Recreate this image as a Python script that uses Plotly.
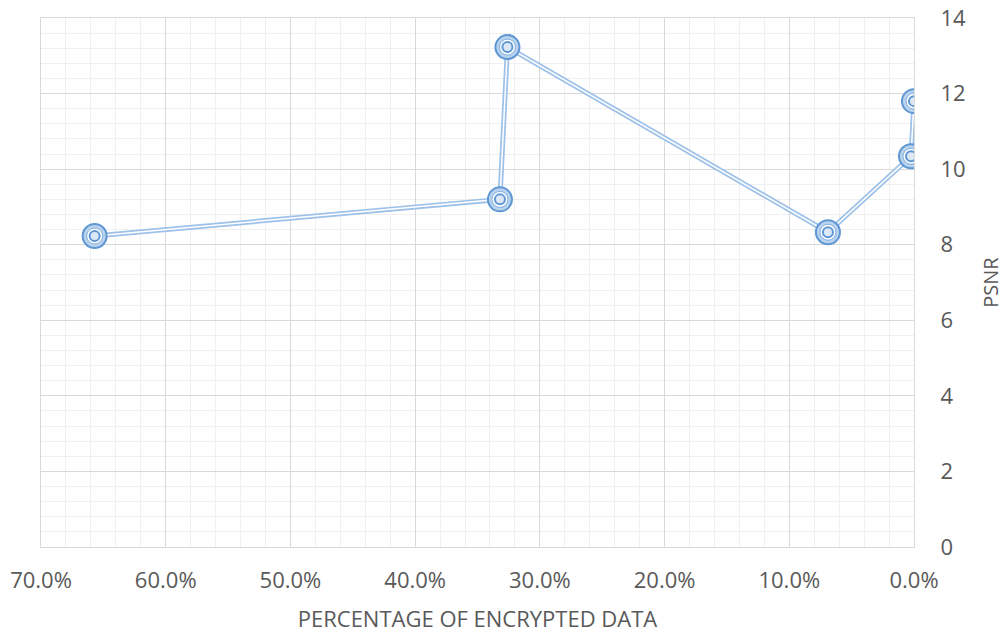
import plotly.graph_objects as go

pct_encrypted = [0.657, 0.332, 0.326, 0.069, 0.0024, 0.0]
psnr = [8.23, 9.2, 13.23, 8.33, 10.34, 11.8]
x_ticks = [0.7, 0.6, 0.5, 0.4, 0.3, 0.2, 0.1, 0.0]
x_tick_labels = ["70.0%", "60.0%", "50.0%", "40.0%", "30.0%", "20.0%", "10.0%", "0.0%"]
y_ticks = [0, 2, 4, 6, 8, 10, 12, 14]

fig = go.Figure()
fig.add_trace(go.Scatter(x=pct_encrypted, y=psnr, mode="lines",
                         line=dict(color="#9DC1E8", width=5), hoverinfo="skip", showlegend=False))
fig.add_trace(go.Scatter(x=pct_encrypted, y=psnr, mode="lines",
                         line=dict(color="white", width=1.5), hoverinfo="skip", showlegend=False))
fig.add_trace(go.Scatter(x=pct_encrypted, y=psnr, mode="markers",
                         marker=dict(symbol="circle", size=24, color="#B9D3EF",
                                     line=dict(color="#5F97D3", width=2)),
                         showlegend=False))
fig.add_trace(go.Scatter(x=pct_encrypted, y=psnr, mode="markers",
                         marker=dict(symbol="circle", size=16, color="white",
                                     line=dict(color="#7FAEE0", width=1)),
                         showlegend=False))
fig.add_trace(go.Scatter(x=pct_encrypted, y=psnr, mode="markers",
                         marker=dict(symbol="circle", size=10, color="#DCE8F6",
                                     line=dict(color="#5F97D3", width=2)),
                         showlegend=False))

fig.update_layout(
    width=1007, height=636,
    margin=dict(l=41, r=93, t=18, b=89),
    paper_bgcolor="white", plot_bgcolor="white",
    font=dict(family="Open Sans, DejaVu Sans, sans-serif", color="#595959"),
    xaxis=dict(range=[0.7, 0.0], tickvals=x_ticks, ticktext=x_tick_labels, automargin=False,
               showgrid=True, gridcolor="#D9D9D9", gridwidth=1,
               minor=dict(dtick=0.02, showgrid=True, gridcolor="#F0F0F0", gridwidth=1),
               showline=True, linecolor="#D9D9D9", mirror=True, zeroline=False,
               ticks="", ticklabelstandoff=14, ticklabeloverflow="allow",
               tickfont=dict(size=22, color="#595959"),
               title=dict(text="PERCENTAGE OF ENCRYPTED DATA", font=dict(size=22, color="#595959"), standoff=18)),
    yaxis=dict(range=[0, 14], tickvals=y_ticks, side="right", automargin=False,
               showgrid=True, gridcolor="#D9D9D9", gridwidth=1,
               minor=dict(dtick=0.4, showgrid=True, gridcolor="#F0F0F0", gridwidth=1),
               showline=True, linecolor="#D9D9D9", mirror=True, zeroline=False,
               ticks="", ticklabelstandoff=21, ticklabeloverflow="allow",
               tickfont=dict(size=22, color="#595959"),
               title=dict(text="PSNR", font=dict(size=20, color="#595959"), standoff=19)),
)

fig.write_html("out.html", config={"displayModeBar": False},
               post_script="document.body.style.margin='0';")
